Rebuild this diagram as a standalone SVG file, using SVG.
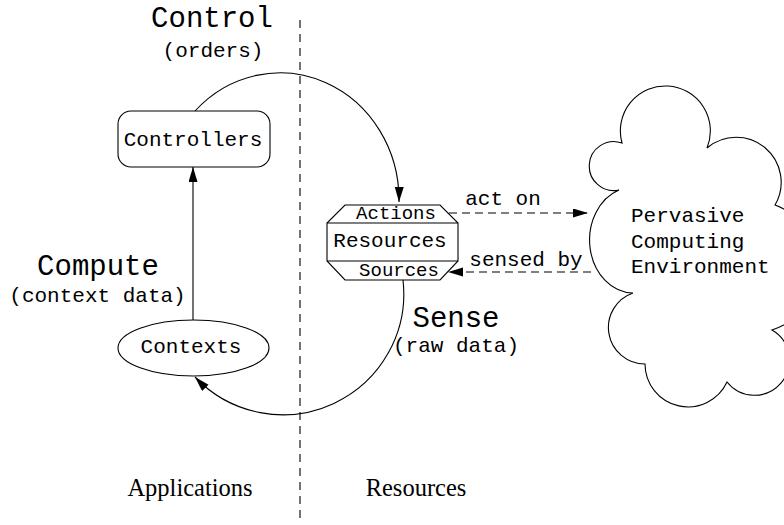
<svg xmlns="http://www.w3.org/2000/svg" width="784" height="525" viewBox="0 0 784 525">
<style>
.ln{fill:none;stroke:#000;stroke-width:1.1}
.dash{fill:none;stroke:#000;stroke-width:1.1;stroke-dasharray:8 5}
.shape{fill:#fff;stroke:#000;stroke-width:1.1}
.mono{font-family:"Liberation Mono","Courier New",monospace;fill:#000}
.t{font-size:29px}
.l{font-size:21px}
.s{font-size:19px}
.serif{font-family:"Liberation Serif","Times New Roman",serif;font-size:24.5px;fill:#000}
.mid{text-anchor:middle}
</style>
<defs>
<marker id="ah" markerUnits="userSpaceOnUse" markerWidth="16" markerHeight="10" refX="15" refY="4.5" orient="auto">
<path d="M0,0 L15,4.5 L0,9 z" fill="#000"/>
</marker>
</defs>
<rect width="784" height="525" fill="#fff"/>
<line x1="300" y1="20" x2="300" y2="522" class="ln" stroke-dasharray="8 6"/>
<g id="labels">
<text x="212" y="27" class="mono t mid">Control</text>
<text x="213" y="57" class="mono l mid">(orders)</text>
<text x="98" y="275" class="mono t mid">Compute</text>
<text x="97.5" y="302" class="mono l mid">(context data)</text>
<text x="456" y="327" class="mono t mid">Sense</text>
<text x="456" y="352" class="mono l mid">(raw data)</text>
<text x="190" y="496" class="serif mid">Applications</text>
<text x="416" y="496" class="serif mid">Resources</text>
</g>
<g id="cloud">
<path class="shape" d="M622,143 A45,45 0 1 1 707,148 A45,45 0 0 1 775,205 A66,66 0 0 1 772,330 A35,35 0 1 1 727,382 A43,43 0 0 1 645,364 A36.5,36.5 0 0 1 633,293 A44,53 0 0 1 619,190 A24.5,24.5 0 1 1 622,143 Z"/>
<text x="631" y="222" class="mono l">Pervasive</text>
<text x="631" y="248" class="mono l">Computing</text>
<text x="631" y="273" class="mono l">Environment</text>
</g>
<g id="controllers">
<rect x="118" y="111" width="152" height="56" rx="13" ry="13" class="shape"/>
<text x="193" y="146" class="mono l mid">Controllers</text>
</g>
<g id="contexts">
<ellipse cx="193.5" cy="348" rx="75.5" ry="28" class="shape"/>
<text x="191" y="353" class="mono l mid">Contexts</text>
</g>
<g id="resources">
<polygon points="345,205 440,205 458,223 458,261 440,280 345,280 327,261 327,223" class="shape"/>
<line x1="327" y1="223" x2="458" y2="223" class="ln"/>
<line x1="327" y1="261" x2="458" y2="261" class="ln"/>
<text x="396" y="219" class="mono s mid">Actions</text>
<text x="390" y="247" class="mono l mid">Resources</text>
<text x="399" y="276" class="mono s mid">Sources</text>
</g>
<g id="connectors">
<path d="M195,111 A119,127 0 0 1 399,202" class="ln" marker-end="url(#ah)"/>
<line x1="193" y1="320" x2="193" y2="167" class="ln" marker-end="url(#ah)"/>
<path d="M403,280 A121,121 0 0 1 195,377" class="ln" marker-end="url(#ah)"/>
<line x1="449" y1="213" x2="588" y2="213" class="dash" marker-end="url(#ah)"/>
<line x1="591" y1="272" x2="448" y2="272" class="dash" marker-end="url(#ah)"/>
<text x="503" y="205" class="mono l mid">act on</text>
<text x="526" y="266" class="mono l mid">sensed by</text>
</g>
</svg>
